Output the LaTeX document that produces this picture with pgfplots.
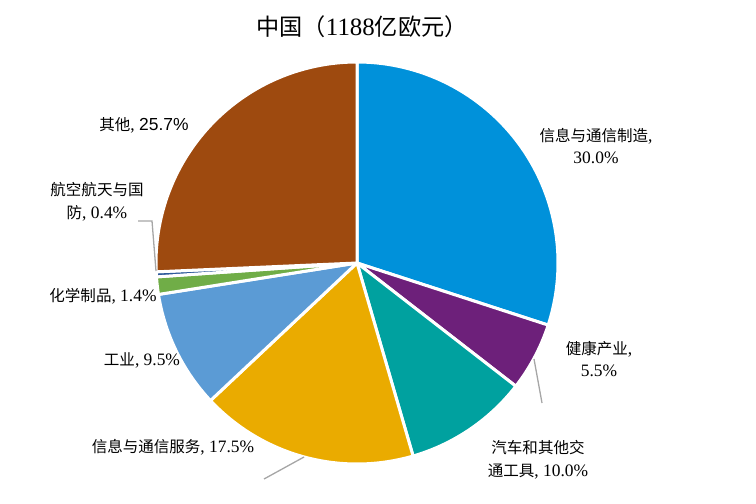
\documentclass[border=0pt]{standalone}
\usepackage{fontspec}
\setmainfont{Liberation Serif}
\newfontfamily\cjk{Noto Sans CJK SC}[Scale=0.89]
\newfontfamily\cjkT{Noto Sans CJK SC}[Scale=0.93]
\newfontfamily\arial{Liberation Sans}
\usepackage{pgfplots}
\pgfplotsset{compat=1.18}
\newcommand{\C}[1]{{\cjk #1}}
\definecolor{cA}{HTML}{0091DA}
\definecolor{cB}{HTML}{6D207A}
\definecolor{cC}{HTML}{00A19F}
\definecolor{cD}{HTML}{EAAB00}
\definecolor{cE}{HTML}{5B9BD5}
\definecolor{cF}{HTML}{70AD47}
\definecolor{cG}{HTML}{2E5A9C}
\definecolor{cH}{HTML}{9E4A0F}
\definecolor{lead}{HTML}{A6A6A6}
% shares (percent), clockwise from 12 o'clock
\def\vA{30.0}\def\vB{5.5}\def\vC{10.0}\def\vD{17.5}
\def\vE{9.5}\def\vF{1.4}\def\vG{0.4}\def\vH{25.7}
\pgfmathsetmacro\aA{0}
\pgfmathsetmacro\aB{\aA+3.6*\vA}
\pgfmathsetmacro\aC{\aB+3.6*\vB}
\pgfmathsetmacro\aD{\aC+3.6*\vC}
\pgfmathsetmacro\aE{\aD+3.6*\vD}
\pgfmathsetmacro\aF{\aE+3.6*\vE}
\pgfmathsetmacro\aG{\aF+3.6*\vF}
\pgfmathsetmacro\aH{\aG+3.6*\vG}
\pgfmathsetmacro\aI{\aH+3.6*\vH}
\newcommand{\slice}[3]{%
  \addplot[fill=#1, draw=white, line width=3bp, line join=round, domain=#2:#3, samples=90, variable=\t]
    ({357+201*sin(\t)},{263-201*cos(\t)}) -- (axis cs:357,263) -- cycle;}
\begin{document}
\begin{tikzpicture}
\begin{axis}[width=756bp, height=504bp, scale only axis,
  xmin=0, xmax=756, ymin=0, ymax=504, y dir=reverse,
  hide axis, clip=false]
\path[draw=none] (rel axis cs:0,0) rectangle (rel axis cs:1,1);
\slice{cA}{\aA}{\aB}
\slice{cB}{\aB}{\aC}
\slice{cC}{\aC}{\aD}
\slice{cD}{\aD}{\aE}
\slice{cE}{\aE}{\aF}
\slice{cF}{\aF}{\aG}
\slice{cG}{\aG}{\aH}
\slice{cH}{\aH}{\aI}
% leader lines
\addplot[lead, line width=1.3bp] coordinates {(534,359) (542,403)};
\addplot[lead, line width=1.3bp] coordinates {(264,479) (304,457)};
\addplot[lead, line width=1.3bp] coordinates {(138,221) (152,221) (156,271)};
% title
\node[font=\fontsize{25}{28}\selectfont] at (axis cs:362,27) {{\cjkT 中国（}1188{\cjkT 亿欧元）}};
% labels
\begin{scope}[every node/.style={font=\fontsize{17.5}{23}\selectfont, align=center}]
\node at (axis cs:596,146) {\C{信息与通信制造},\\30.0\%};
\node at (axis cs:599,359) {\C{健康产业},\\5.5\%};
\node at (axis cs:538,460) {\C{汽车和其他交}\\\C{通工具}, 10.0\%};
\node at (axis cs:173,447) {\C{信息与通信服务}, 17.5\%};
\node at (axis cs:142,360) {\C{工业}, 9.5\%};
\node at (axis cs:103,296) {\C{化学制品}, 1.4\%};
\node at (axis cs:97,202) {\C{航空航天与国}\\\C{防}, 0.4\%};
\node at (axis cs:144,125) {\C{其他}, {\arial 25.7\%}};
\end{scope}
\end{axis}
\end{tikzpicture}
\end{document}
